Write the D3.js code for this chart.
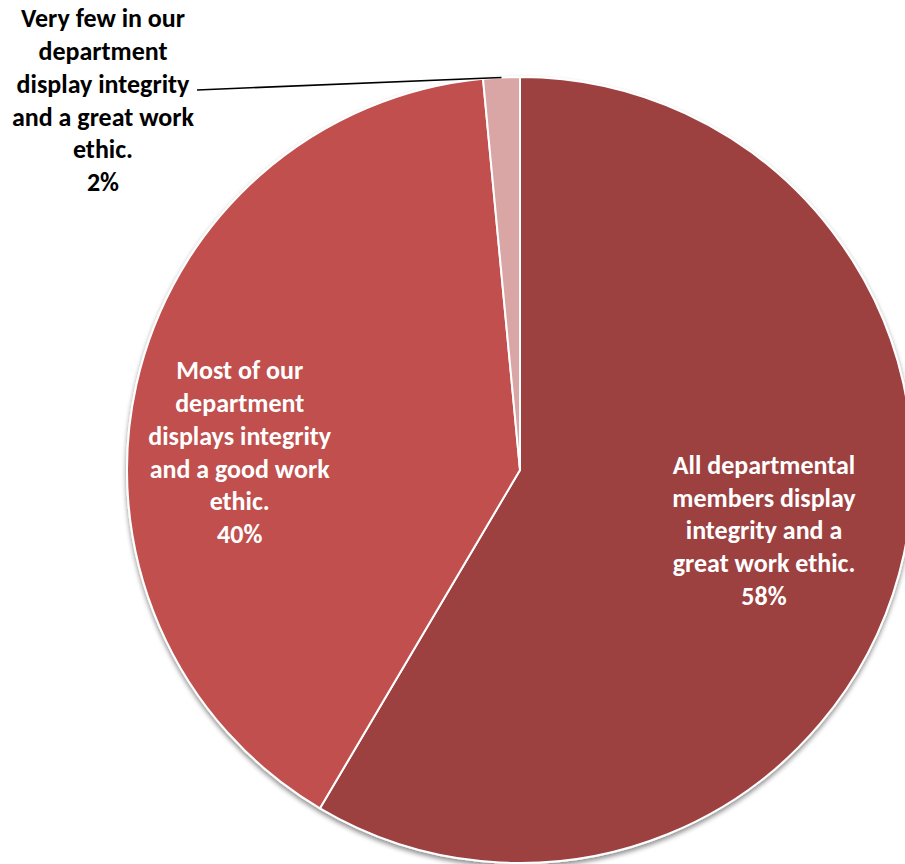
<!DOCTYPE html>
<html><head><meta charset="utf-8">
<script src="https://cdn.jsdelivr.net/npm/d3@7"></script>
<style>
html,body{margin:0;padding:0;background:#fff;}
svg{display:block;}
text{font-family:Carlito, Calibri, Lato, "Open Sans", sans-serif;font-weight:bold;}
</style></head>
<body><svg id="chart" width="905" height="864"></svg>
<script>
const categories = [
  "All departmental members display integrity and a great work ethic.",
  "Most of our department displays integrity and a good work ethic.",
  "Very few in our department display integrity and a great work ethic."
];
const values = [58.5, 40.0, 1.5];
const percentLabels = ["58%", "40%", "2%"];
const labelLines = [
  ["All departmental", "members display", "integrity and a", "great work ethic.", "58%"],
  ["Most of our", "department", "displays integrity", "and a good work", "ethic.", "40%"],
  ["Very few in our", "department", "display integrity", "and a great work", "ethic.", "2%"]
];
const colors = ["#9D403F", "#C0504D", "#D9A6A5"];

const W = 905, H = 864;
const cx = 520, cy = 470, R = 393;
const svg = d3.select("#chart");

const defs = svg.append("defs");
const f = defs.append("filter").attr("id","shadow").attr("x","-10%").attr("y","-10%").attr("width","120%").attr("height","120%");
f.append("feGaussianBlur").attr("in","SourceAlpha").attr("stdDeviation",2.5).attr("result","b");
f.append("feOffset").attr("in","b").attr("dx",0).attr("dy",3).attr("result","o");
f.append("feComponentTransfer").attr("in","o").attr("result","o2")
  .append("feFuncA").attr("type","linear").attr("slope",0.45);
const m = f.append("feMerge");
m.append("feMergeNode").attr("in","o2");
m.append("feMergeNode").attr("in","SourceGraphic");

const pie = d3.pie().sort(null).value(d => d)(values);
const arc = d3.arc().innerRadius(0).outerRadius(R);

const g = svg.append("g").attr("transform", `translate(${cx},${cy})`);
g.append("g").attr("filter","url(#shadow)")
  .selectAll("path").data(pie).join("path")
  .attr("d", arc)
  .attr("fill", (d,i) => colors[i])
  .attr("stroke", "#fff").attr("stroke-width", 2).attr("stroke-linejoin","round");

const lh = 32.8;
const inner = d3.arc().innerRadius(R*0.62).outerRadius(R*0.62);
const pos = pie.map((d,i) => {
  if (i === 0) { const c = inner.centroid(d); return [c[0]+9, c[1]-4]; }
  if (i === 1) { const c = d3.arc().innerRadius(R*0.71).outerRadius(R*0.71).centroid(d); return [c[0]-8, c[1]+43]; }
  return [103 - cx, 100 - cy];
});

pie.forEach((d,i) => {
  const lines = labelLines[i];
  const [x, y] = pos[i];
  const t = g.append("text")
    .attr("text-anchor","middle")
    .attr("fill", i === 2 ? "#000" : "#fff")
    .style("font-size","26px");
  const y0 = y - (lines.length-1)*lh/2;
  lines.forEach((s,k) => {
    t.append("tspan").attr("x", x).attr("y", y0 + k*lh).attr("dy","0.35em").text(s);
  });
});

// leader line for small slice
const small = pie[2];
const midA = (small.startAngle + small.endAngle)/2;
const edge = [Math.sin(midA)*R, -Math.cos(midA)*R];
g.append("path")
  .attr("d", d3.line()([[197-cx, 90-cy], [edge[0], edge[1]]]))
  .attr("stroke","#000").attr("stroke-width",1.6).attr("fill","none");
</script></body></html>
